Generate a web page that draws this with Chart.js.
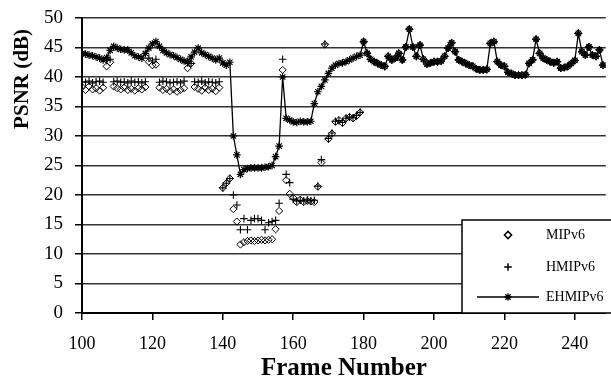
<!DOCTYPE html>
<html>
<head>
<meta charset="utf-8">
<script src="https://cdn.jsdelivr.net/npm/chart.js@4.4.1/dist/chart.umd.min.js"></script>
<style>
html,body{margin:0;padding:0;background:#fff;}
#wrap{width:611px;height:379px;position:relative;}
</style>
</head>
<body>
<div id="wrap"><canvas id="c" width="611" height="379"></canvas></div>
<script>
// Frame numbers (x categories)
const firstFrame = 100;
const xTicks = [100, 120, 140, 160, 180, 200, 220, 240];
const yTicks = [0, 5, 10, 15, 20, 25, 30, 35, 40, 45, 50];
const seriesNames = ["MIPv6", "HMIPv6", "EHMIPv6"];
const xTitle = "Frame Number";
const yTitle = "PSNR (dB)";

// EHMIPv6 PSNR (dB), frames 100..248
const ehmip = [
 44.0,43.9,43.7,43.6,43.4,43.2,42.9,43.3,44.5,45.2,
 44.9,44.7,44.6,44.6,44.1,43.6,43.4,43.2,44.0,44.9,
 45.6,46.0,45.2,44.5,44.1,43.8,43.6,43.3,43.0,42.7,
 42.6,43.4,44.2,44.9,44.1,43.8,43.5,43.2,42.9,43.2,
 42.4,42.0,42.5,30.0,26.8,23.5,24.3,24.5,24.6,24.6,
 24.6,24.6,24.7,24.8,25.0,26.5,28.3,40.0,33.0,32.7,
 32.4,32.3,32.5,32.4,32.4,32.5,35.5,37.5,38.4,39.5,
 40.6,41.5,42.0,42.3,42.4,42.6,42.9,43.2,43.5,43.7,
 46.0,44.0,43.0,42.6,42.3,42.0,41.8,43.5,42.9,43.2,
 44.0,42.9,45.1,48.1,45.1,43.5,45.4,43.0,42.2,42.4,
 42.6,42.6,42.7,43.5,44.9,45.8,44.3,42.9,42.6,42.3,
 42.0,41.8,41.4,41.2,41.2,41.3,45.7,46.0,42.6,42.0,
 41.8,40.8,40.6,40.3,40.3,40.3,40.4,42.3,42.9,46.4,
 44.0,43.2,42.9,42.6,42.4,42.6,41.5,41.6,41.8,42.3,
 42.8,47.4,44.3,43.7,45.1,43.7,43.5,44.6,42.0
];

// MIPv6 PSNR (dB), frames 100..248
const mip = [
 38.3,37.8,38.4,37.9,38.1,37.7,38.2,41.8,42.5,38.4,
 38.1,37.9,38.2,37.8,38.0,37.7,38.1,37.9,38.3,42.6,
 42.0,42.1,38.2,37.8,38.0,37.6,37.9,37.5,37.8,38.1,
 41.5,42.3,38.3,38.0,37.7,38.2,37.8,38.0,37.6,38.2,
 21.2,22.0,22.8,17.6,15.5,11.6,12.0,12.2,12.3,12.2,
 12.3,12.4,12.3,12.4,12.5,14.2,17.3,41.2,22.5,20.2,
 19.5,18.8,19.2,18.8,19.0,18.9,18.8,21.4,25.5,45.5,
 29.5,30.4,32.4,32.7,32.2,33.0,33.2,33.0,33.4,34.0,
 46.0,44.0,43.0,42.6,42.3,42.0,41.8,43.5,42.9,43.2,
 44.0,42.9,45.1,48.1,45.1,43.5,45.4,43.0,42.2,42.4,
 42.6,42.6,42.7,43.5,44.9,45.8,44.3,42.9,42.6,42.3,
 42.0,41.8,41.4,41.2,41.2,41.3,45.7,46.0,42.6,42.0,
 41.8,40.8,40.6,40.3,40.3,40.3,40.4,42.3,42.9,46.4,
 44.0,43.2,42.9,42.6,42.4,42.6,41.5,41.6,41.8,42.3,
 42.8,47.4,44.3,43.7,45.1,43.7,43.5,44.6,42.0
];

// HMIPv6 PSNR (dB), frames 100..248
const hmip = [
 39.2,39.1,39.3,39.0,39.2,39.3,39.1,42.8,43.0,39.2,
 39.3,39.1,39.2,39.0,39.3,39.1,39.2,39.0,39.2,43.2,
 42.7,43.0,39.1,39.3,39.2,39.0,39.1,39.2,39.0,39.3,
 42.4,42.3,39.2,39.1,39.3,39.0,39.2,39.1,39.0,39.2,
 21.2,22.0,22.8,20.0,18.3,14.1,16.0,14.1,15.7,16.0,
 16.0,15.7,14.1,15.3,15.5,15.7,18.6,43.0,23.5,22.1,
 19.3,19.0,19.1,19.0,19.2,19.0,19.1,21.5,26.0,45.6,
 29.6,30.5,32.5,32.6,32.3,33.0,33.2,33.1,33.5,34.0,
 46.0,44.0,43.0,42.6,42.3,42.0,41.8,43.5,42.9,43.2,
 44.0,42.9,45.1,48.1,45.1,43.5,45.4,43.0,42.2,42.4,
 42.6,42.6,42.7,43.5,44.9,45.8,44.3,42.9,42.6,42.3,
 42.0,41.8,41.4,41.2,41.2,41.3,45.7,46.0,42.6,42.0,
 41.8,40.8,40.6,40.3,40.3,40.3,40.4,42.3,42.9,46.4,
 44.0,43.2,42.9,42.6,42.4,42.6,41.5,41.6,41.8,42.3,
 42.8,47.4,44.3,43.7,45.1,43.7,43.5,44.6,42.0
];

const FONT = "'Liberation Serif', 'Times New Roman', serif";

function toPoints(arr){ return arr.map((v,i)=>({x:firstFrame+i, y:v})); }

// y-axis title placed near the top of the axis, as in the reference
const yTitlePlugin = {
  id: 'yTitleTop',
  afterDraw(chart){
    const ctx = chart.ctx;
    ctx.save();
    ctx.translate(23, 79);
    ctx.rotate(-Math.PI/2);
    ctx.fillStyle = '#000';
    ctx.font = "bold 21px " + FONT;
    ctx.textAlign = 'center';
    ctx.textBaseline = 'middle';
    ctx.fillText(yTitle, 0, 0);
    ctx.restore();
  }
};

const legendPlugin = {
  id: 'boxLegend',
  afterDraw(chart){
    const ctx = chart.ctx;
    const ds = chart.data.datasets;
    ctx.save();
    const bx = 462, by = 220, bw = 160, bh = 93;
    ctx.fillStyle = '#fff';
    ctx.fillRect(bx, by, bw, bh);
    ctx.strokeStyle = '#000';
    ctx.lineWidth = 1.5;
    ctx.strokeRect(bx, by, bw, bh);
    const rows = [235, 267, 297];
    ds.forEach((d, i) => {
      const y = rows[i];
      if (d.showLine) {
        ctx.beginPath();
        ctx.strokeStyle = '#000';
        ctx.lineWidth = 1.3;
        ctx.moveTo(477, y); ctx.lineTo(539, y);
        ctx.stroke();
      }
      ctx.fillStyle = 'rgba(0,0,0,0)';
      ctx.strokeStyle = '#000';
      Chart.helpers.drawPoint(ctx, {
        pointStyle: d.pointStyle, radius: d.pointRadius, borderWidth: d.pointBorderWidth, rotation: 0
      }, 508, y);
      ctx.fillStyle = '#000';
      ctx.font = "14px " + FONT;
      ctx.textBaseline = 'middle';
      ctx.textAlign = 'left';
      ctx.fillText(d.label, 546, y);
    });
    ctx.restore();
  }
};

new Chart(document.getElementById('c'), {
  type: 'scatter',
  data: {
    datasets: [
      { label: seriesNames[0], data: toPoints(mip), showLine: false,
        pointStyle: 'rectRot', pointRadius: 3.6, pointBorderWidth: 1,
        borderColor: '#000', backgroundColor: 'rgba(0,0,0,0)', pointBackgroundColor: 'rgba(0,0,0,0)', pointBorderColor: '#000' },
      { label: seriesNames[1], data: toPoints(hmip), showLine: false,
        pointStyle: 'cross', pointRadius: 3.8, pointBorderWidth: 1.1,
        borderColor: '#000', backgroundColor: '#000', pointBorderColor: '#000' },
      { label: seriesNames[2], data: toPoints(ehmip), showLine: true,
        pointStyle: 'star', pointRadius: 3.8, pointBorderWidth: 1.2,
        borderColor: '#000', borderWidth: 1.3, backgroundColor: '#000', pointBorderColor: '#000', tension: 0 }
    ]
  },
  plugins: [legendPlugin, yTitlePlugin],
  options: {
    responsive: true,
    maintainAspectRatio: false,
    devicePixelRatio: 1,
    animation: false,
    layout: { padding: { top: 18, right: 0, left: 0, bottom: 0 } },
    plugins: { legend: { display: false }, tooltip: { enabled: false } },
    scales: {
      x: {
        type: 'linear', min: 100, max: 248.8,
        afterBuildTicks: s => { s.ticks = xTicks.map(v => ({ value: v })); },
        afterFit: s => { s.height = 66; s.paddingLeft = 0; s.paddingRight = 0; },
        ticks: { color: '#000', font: { family: FONT, size: 18 }, padding: 13, maxRotation: 0 },
        grid: { drawOnChartArea: false, drawTicks: true, tickLength: 7, color: '#000', lineWidth: 1.5 },
        border: { display: true, color: '#000', width: 2 },
        title: { display: true, text: xTitle, color: '#000',
          font: { family: FONT, size: 25, weight: 'bold' }, padding: { top: 0, bottom: -5 } }
      },
      y: {
        min: 0, max: 50,
        afterBuildTicks: s => { s.ticks = yTicks.map(v => ({ value: v })); },
        afterFit: s => { s.width = 82; s.paddingTop = 0; s.paddingBottom = 0; },
        ticks: { color: '#000', font: { family: FONT, size: 19 }, padding: 12 },
        grid: { color: '#333', lineWidth: 1.5, tickLength: 7, tickColor: '#000' },
        border: { display: true, color: '#000', width: 2 },
        title: { display: false }
      }
    }
  }
});
</script>
</body>
</html>
